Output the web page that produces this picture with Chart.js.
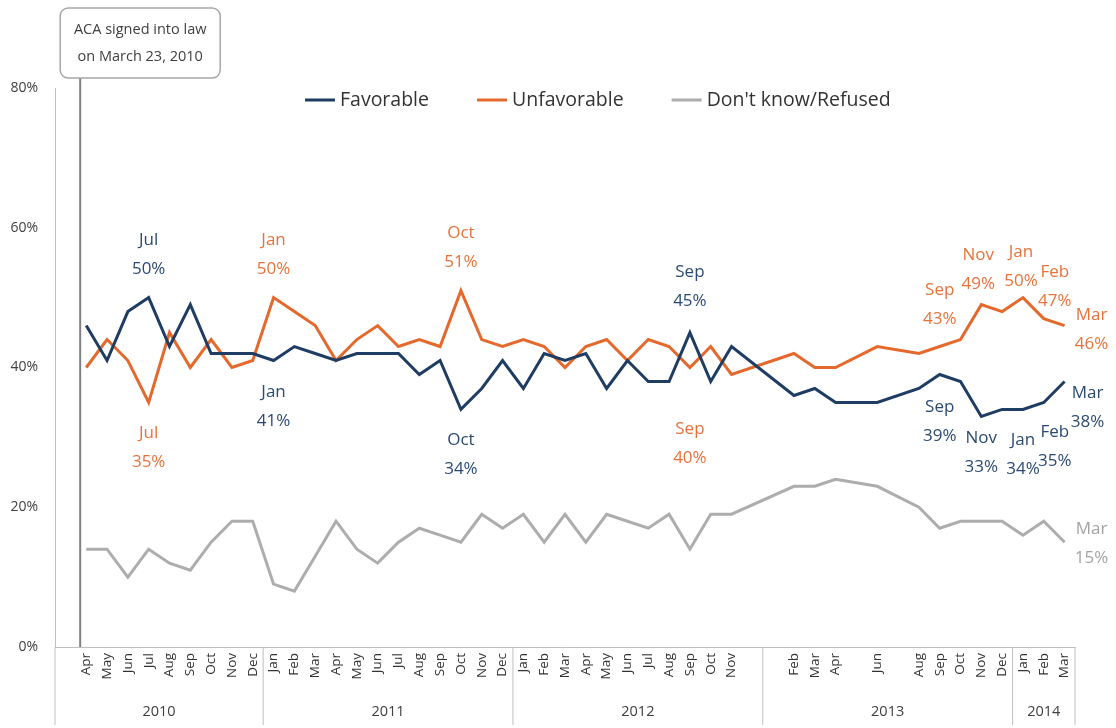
<!DOCTYPE html>
<html>
<head>
<meta charset="utf-8">
<script src="https://cdn.jsdelivr.net/npm/chart.js@4.4.0/dist/chart.umd.min.js"></script>
<style>
  body { margin: 0; background: #fff; }
  #wrap { width: 1116px; height: 728px; }
</style>
</head>
<body>
<div id="wrap"><canvas id="chart" width="1116" height="728"></canvas></div>
<script>
// months on the axis (blank = no survey that month)
var months = ['', 'Apr', 'May', 'Jun', 'Jul', 'Aug', 'Sep', 'Oct', 'Nov', 'Dec',
  'Jan', 'Feb', 'Mar', 'Apr', 'May', 'Jun', 'Jul', 'Aug', 'Sep', 'Oct', 'Nov', 'Dec',
  'Jan', 'Feb', 'Mar', 'Apr', 'May', 'Jun', 'Jul', 'Aug', 'Sep', 'Oct', 'Nov', '',
  '', 'Feb', 'Mar', 'Apr', '', 'Jun', '', 'Aug', 'Sep', 'Oct', 'Nov', 'Dec',
  'Jan', 'Feb', 'Mar'];
var years = ['2010', '2011', '2012', '2013', '2014'];
var monthsPerYear = [10, 12, 12, 12, 3];

var favorable = [null, 46, 41, 48, 50, 43, 49, 42, 42, 42,
  41, 43, 42, 41, 42, 42, 42, 39, 41, 34, 37, 41,
  37, 42, 41, 42, 37, 41, 38, 38, 45, 38, 43, null,
  null, 36, 37, 35, null, 35, null, 37, 39, 38, 33, 34,
  34, 35, 38];
var unfavorable = [null, 40, 44, 41, 35, 45, 40, 44, 40, 41,
  50, 48, 46, 41, 44, 46, 43, 44, 43, 51, 44, 43,
  44, 43, 40, 43, 44, 41, 44, 43, 40, 43, 39, null,
  null, 42, 40, 40, null, 43, null, 42, 43, 44, 49, 48,
  50, 47, 46];
var dontKnow = [null, 14, 14, 10, 14, 12, 11, 15, 18, 18,
  9, 8, 13, 18, 14, 12, 15, 17, 16, 15, 19, 17,
  19, 15, 19, 15, 19, 18, 17, 19, 14, 19, 19, null,
  null, 23, 23, 24, null, 23, null, 20, 17, 18, 18, 18,
  16, 18, 15];

var yTicks = [0, 20, 40, 60, 80];

var navy = '#1f3d63';
var orange = '#e5692d';
var grey = '#adadad';
var font = "'Open Sans', sans-serif";

// labelled points: [dataset, index, dx, dy of first line]
var callouts = [
  [0, 4, 0, -57], [0, 10, 0, 32], [0, 19, 0, 31], [0, 30, 0, -60],
  [0, 42, 0, 33], [0, 44, 0, 22], [0, 46, 0, 31], [0, 47, 11, 30], [0, 48, 23, 12],
  [1, 4, 0, 31], [1, 10, 0, -57], [1, 19, 0, -57], [1, 30, 0, 62],
  [1, 42, 0, -56], [1, 44, -3, -49], [1, 46, -2, -45], [1, 47, 11, -46], [1, 48, 27, -10],
  [2, 48, 27, -13]
];

var extras = {
  id: 'extras',
  beforeDatasetsDraw: function(chart) {
    var ctx = chart.ctx, x = chart.scales.x, area = chart.chartArea;
    var step = x.getPixelForValue(1) - x.getPixelForValue(0);
    var mx = x.getPixelForValue(0) + step * 22 / 31;
    // signing marker + callout
    ctx.save();
    ctx.strokeStyle = '#808080';
    ctx.lineWidth = 2;
    ctx.beginPath();
    ctx.moveTo(mx, 78);
    ctx.lineTo(mx, area.bottom);
    ctx.stroke();
    var bl = mx - 20, bt = 8, bw = 160, bh = 70;
    ctx.fillStyle = '#fff';
    ctx.strokeStyle = '#a6a6a6';
    ctx.lineWidth = 1.5;
    ctx.beginPath();
    ctx.roundRect(bl, bt, bw, bh, 8);
    ctx.fill();
    ctx.stroke();
    ctx.fillStyle = '#404040';
    ctx.font = '14.5px ' + font;
    ctx.textAlign = 'center';
    ctx.textBaseline = 'middle';
    ctx.fillText('ACA signed into law', bl + bw / 2, 30);
    ctx.fillText('on March 23, 2010', bl + bw / 2, 57);
    ctx.restore();
  },
  afterDraw: function(chart) {
    var ctx = chart.ctx, x = chart.scales.x, area = chart.chartArea;
    var step = x.getPixelForValue(1) - x.getPixelForValue(0);
    ctx.save();
    // year row
    ctx.strokeStyle = '#bfbfbf';
    ctx.lineWidth = 1;
    ctx.fillStyle = '#404040';
    ctx.font = '14.5px ' + font;
    ctx.textAlign = 'center';
    ctx.textBaseline = 'middle';
    var s = 0;
    var edge = x.getPixelForValue(0) - step / 2;
    ctx.beginPath();
    ctx.moveTo(edge, area.bottom);
    ctx.lineTo(edge, 725);
    ctx.stroke();
    years.forEach(function(yr, i) {
      var l = x.getPixelForValue(s) - step / 2;
      var r = x.getPixelForValue(s + monthsPerYear[i] - 1) + step / 2;
      ctx.beginPath();
      ctx.moveTo(r, area.bottom);
      ctx.lineTo(r, 725);
      ctx.stroke();
      ctx.fillText(yr, (l + r) / 2, 712);
      s += monthsPerYear[i];
    });

    // legend
    var lx = area.left + 250, ly = area.top + 12;
    ctx.font = '19.5px ' + font;
    ctx.textAlign = 'left';
    chart.data.datasets.forEach(function(ds) {
      ctx.strokeStyle = ds.borderColor;
      ctx.lineWidth = 3;
      ctx.beginPath();
      ctx.moveTo(lx, ly);
      ctx.lineTo(lx + 30, ly);
      ctx.stroke();
      ctx.fillStyle = '#333';
      ctx.fillText(ds.label, lx + 35, ly);
      lx += 35 + ctx.measureText(ds.label).width + 48;
    });

    // point labels
    ctx.font = '17px ' + font;
    ctx.textAlign = 'center';
    callouts.forEach(function(c) {
      var ds = chart.data.datasets[c[0]];
      var pt = chart.getDatasetMeta(c[0]).data[c[1]];
      ctx.fillStyle = ds.labelColor;
      ctx.fillText(months[c[1]], pt.x + c[2], pt.y + c[3]);
      ctx.fillText(ds.data[c[1]] + '%', pt.x + c[2], pt.y + c[3] + 29);
    });
    ctx.restore();
  }
};

var ctx = document.getElementById('chart').getContext('2d');
var chart = new Chart(ctx, {
  type: 'line',
  data: {
    labels: months,
    datasets: [
      { label: 'Favorable', data: favorable, borderColor: navy, labelColor: '#2b4a72' },
      { label: 'Unfavorable', data: unfavorable, borderColor: orange, labelColor: '#e8733a' },
      { label: "Don't know/Refused", data: dontKnow, borderColor: grey, labelColor: '#a3a3a3' }
    ]
  },
  options: {
    responsive: false,
    animation: false,
    spanGaps: true,
    elements: {
      line: { borderWidth: 3, tension: 0, fill: false },
      point: { radius: 0, hoverRadius: 0 }
    },
    layout: { padding: { top: 88, right: 41, bottom: 0, left: 0 } },
    plugins: {
      legend: { display: false },
      tooltip: { enabled: false }
    },
    scales: {
      x: {
        offset: true,
        grid: { display: false, drawTicks: false },
        border: { color: '#bfbfbf' },
        ticks: {
          autoSkip: false, minRotation: 90, maxRotation: 90, padding: 6,
          color: '#333', font: { family: font, size: 13.5 }
        },
        afterFit: function(s) { s.height = 81; }
      },
      y: {
        min: 0, max: 80,
        afterBuildTicks: function(s) { s.ticks = yTicks.map(function(v) { return { value: v }; }); },
        grid: { display: false, drawTicks: false },
        border: { color: '#bfbfbf' },
        ticks: {
          padding: 17, color: '#404040', font: { family: font, size: 14 },
          callback: function(v) { return v + '%'; }
        },
        afterFit: function(s) { s.width = 55; }
      }
    }
  },
  plugins: [extras]
});
</script>
</body>
</html>
